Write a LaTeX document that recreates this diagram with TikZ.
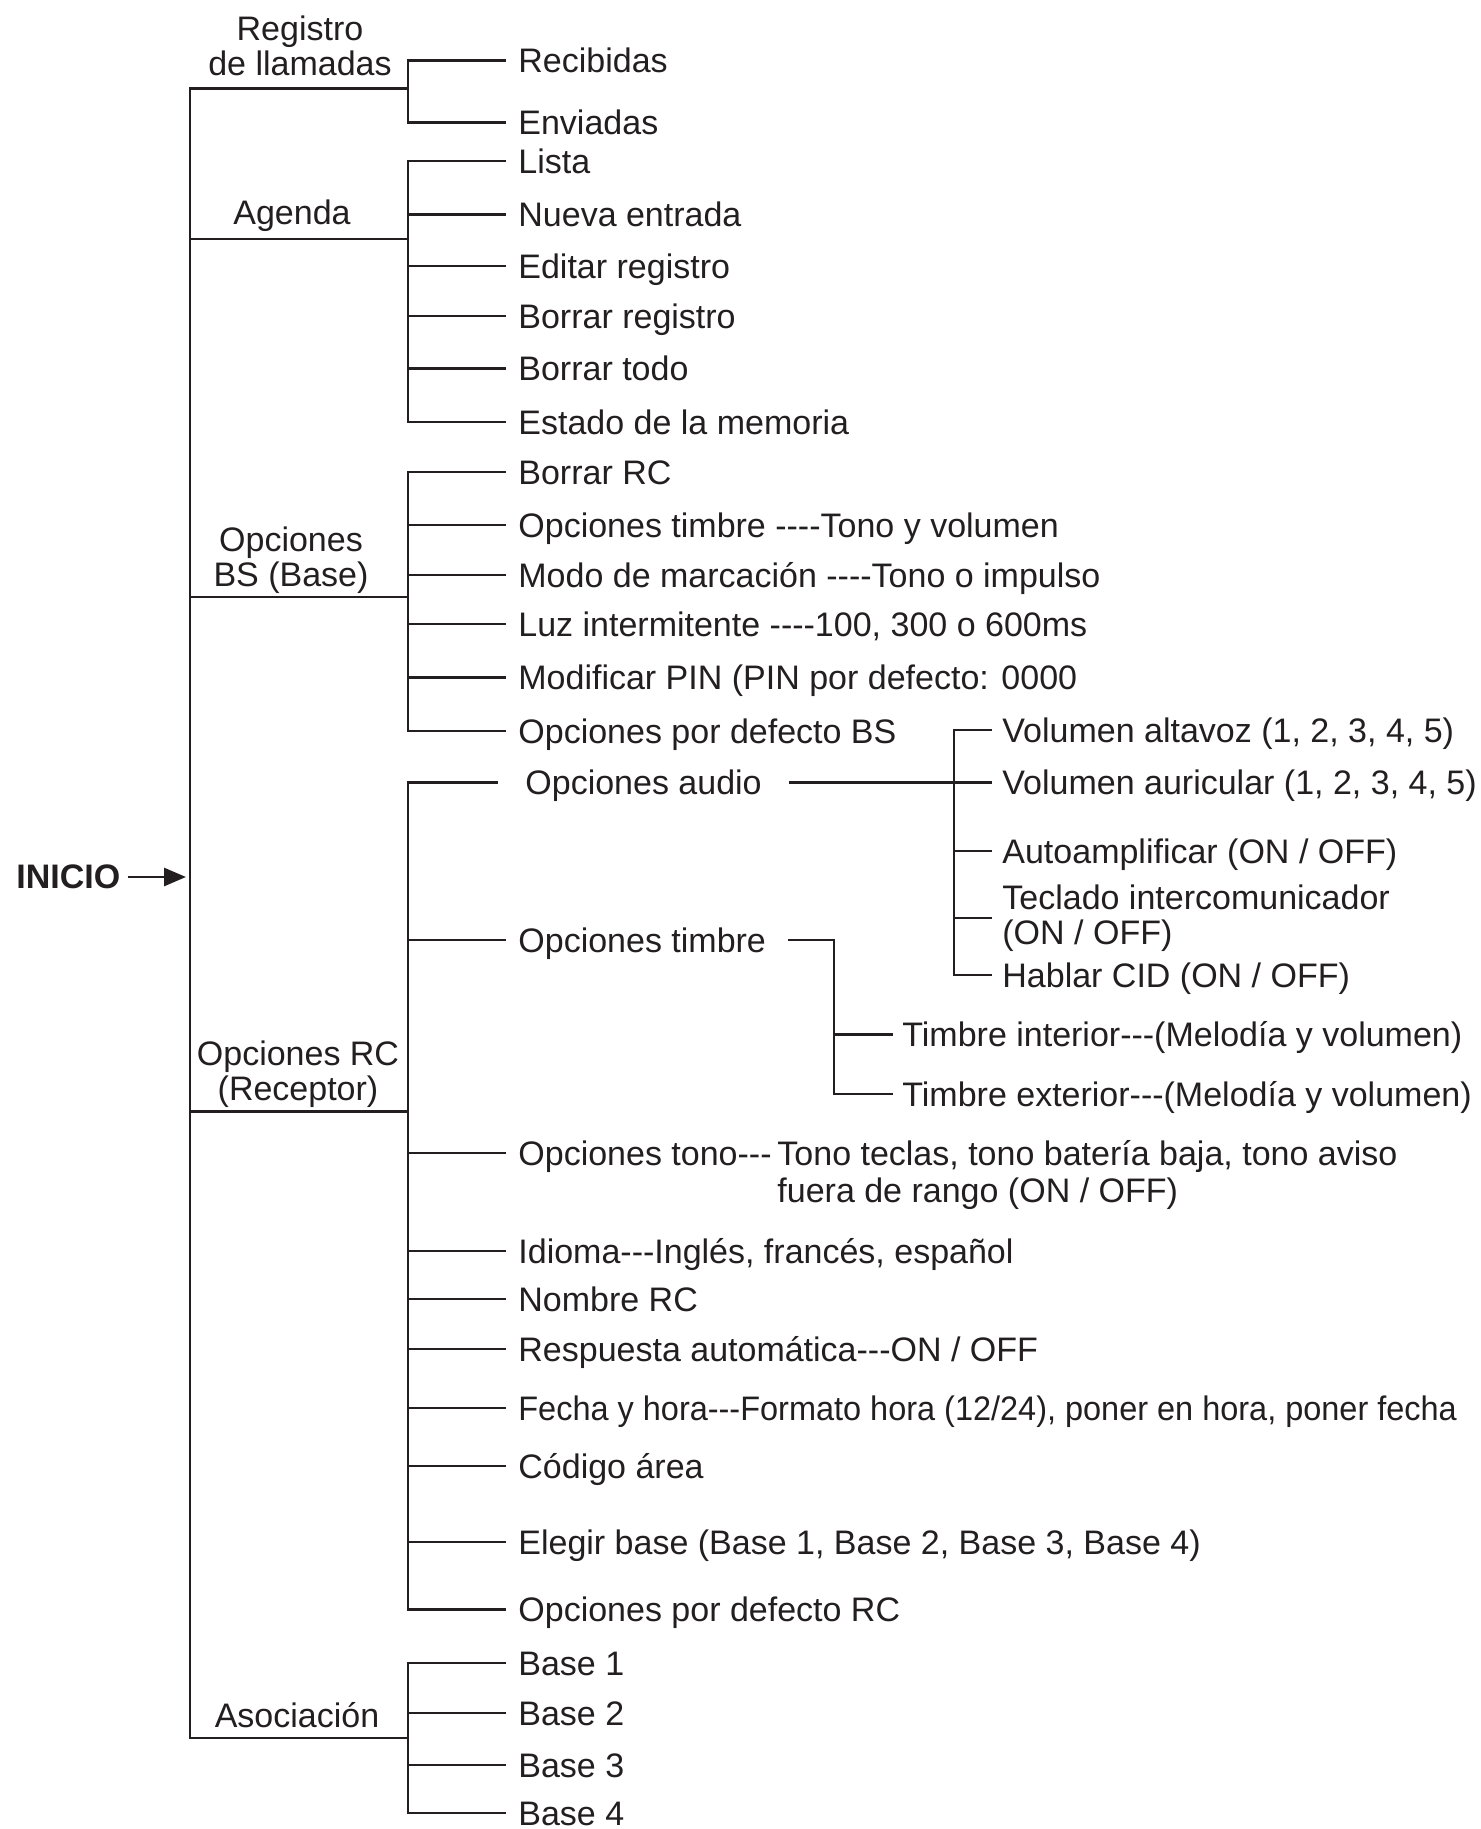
\documentclass[tikz,border=0pt]{standalone}
\usepackage{fontspec}
\setmainfont{Liberation Sans}
\usetikzlibrary{arrows.meta}
\definecolor{ink}{RGB}{35,31,32}
\newcommand\lf{\fontsize{17pt}{17.5pt}\selectfont}
\newcommand\hy{\mbox{-}}
\begin{document}
\begin{tikzpicture}[x=0.5pt, y=-0.5pt, line width=1.4pt, line cap=rect, ink,
  every node/.style={font=\lf, text=ink},
  itm/.style={anchor=west, inner xsep=6pt, inner ysep=0pt, text height=15.4pt, text depth=3.2pt},
  hd/.style={align=center, inner sep=0pt},
  hdone/.style={inner sep=0pt, text height=15.4pt, text depth=3.2pt}]
\fill[white] (0,0) rectangle (1480,1829);
\useasboundingbox (0,0) rectangle (1480,1829);

\coordinate (sp) at (190,0);
\coordinate (bx) at (408,0);
\coordinate (ax) at (954,0);
\coordinate (tx) at (834,0);

% level 1
\coordinate (jReg) at (408,88.6);
\coordinate (jAge) at (408,239);
\coordinate (jBS) at (408,597);
\coordinate (jRC) at (408,1111.5);
\coordinate (jAso) at (408,1738);
\draw (sp |- jReg) -- (sp |- jAso);
\foreach \j in {jReg,jAge,jBS,jRC,jAso} \draw (sp |- \j) -- (\j);

\node[hd] (hReg) at (300,45.5) {Registro\\de llamadas};
\node[hdone] (hAge) at (292,212) {Agenda};
\node[hd] (hBS) at (291,560) {Opciones\\BS (Base)};
\node[hd] (hRC) at (298,1074) {Opciones RC\\(Receptor)};
\node[hdone] (hAso) at (297,1715) {Asociación};

% INICIO
\node[inner sep=0pt, anchor=west, font=\lf\bfseries] (ini) at (15,877) {INICIO};
\draw[-{Triangle[length=11pt,width=9pt]}, line cap=butt] ([xshift=3pt]ini.east) -- ([xshift=-2pt]sp |- ini.east);

% Registro de llamadas
\node[itm] (rec) at (505,60.6) {Recibidas};
\node[itm] (env) at (505,122.5) {Enviadas};
\draw (bx |- rec.west) -- (bx |- env.west);
\foreach \n in {rec,env} \draw (bx |- \n.west) -- (\n.west);

% Agenda
\node[itm] (lis) at (505,161) {Lista};
\node[itm] (nue) at (505,214.6) {Nueva entrada};
\node[itm] (edi) at (505,266) {Editar registro};
\node[itm] (bre) at (505,316) {Borrar registro};
\node[itm] (bto) at (505,368.5) {Borrar todo};
\node[itm] (est) at (505,422) {Estado de la memoria};
\draw (bx |- lis.west) -- (bx |- est.west);
\foreach \n in {lis,nue,edi,bre,bto,est} \draw (bx |- \n.west) -- (\n.west);

% Opciones BS
\node[itm] (brc) at (505,472) {Borrar RC};
\node[itm] (otb) at (505,525) {Opciones timbre \hy\hy\hy\hy Tono y volumen};
\node[itm] (mod) at (505,575) {Modo de marcación \hy\hy\hy\hy Tono o impulso};
\node[itm] (luz) at (505,624) {Luz intermitente \hy\hy\hy\hy 100, 300 o 600ms};
\node[itm] (pin) at (505,677.6) {Modificar PIN (PIN por defecto: 0000};
\node[itm] (pdbs) at (505,731) {Opciones por defecto BS};
\draw (bx |- brc.west) -- (bx |- pdbs.west);
\foreach \n in {brc,otb,mod,luz,pin,pdbs} \draw (bx |- \n.west) -- (\n.west);

% Opciones RC
\node[itm, inner xsep=13.5pt] (aud) at (497,782.6) {Opciones audio};
\node[itm, inner xsep=5pt] (valt) at (991,730) {Volumen altavoz (1, 2, 3, 4, 5)};
\node[itm, inner xsep=5pt] (vaur) at (991,782.6) {Volumen auricular (1, 2, 3, 4, 5)};
\node[itm, inner xsep=5pt] (auto) at (991,851) {Autoamplificar (ON / OFF)};
\node[anchor=west, inner xsep=5pt, inner ysep=0pt, align=left] (tecl) at (991,918) {Teclado intercomunicador\\(ON / OFF)};
\node[itm, inner xsep=5pt] (habl) at (991,975) {Hablar CID (ON / OFF)};
\draw (ax |- valt.west) -- (ax |- habl.west);
\draw (aud.east) -- (vaur.west);
\foreach \n in {valt,auto,tecl,habl} \draw (ax |- \n.west) -- (\n.west);

\node[itm] (trc) at (505,940) {Opciones timbre};
\node[itm, inner xsep=4.5pt] (tin) at (892,1034.5) {Timbre interior\hy\hy\hy(Melodía y volumen)};
\node[itm, inner xsep=4.5pt] (tex) at (892,1094) {Timbre exterior\hy\hy\hy(Melodía y volumen)};
\draw ([xshift=5pt]trc.east) -- (tx |- trc.east) -- (tx |- tex.west) -- (tex.west);
\draw (tx |- tin.west) -- (tin.west);

\node[itm] (tonoA) at (505,1153) {Opciones tono\hy\hy\hy};
\node[anchor=base west, inner sep=0pt] (tonoB) at ([xshift=-4.5pt]tonoA.base east) {Tono teclas, tono batería baja, tono aviso};
\node[anchor=base west, inner sep=0pt] (tonoC) at ([yshift=-18.5pt]tonoB.base west) {fuera de rango (ON / OFF)};

\node[itm] (idi) at (505,1251) {Idioma\hy\hy\hy Inglés, francés, español};
\node[itm] (nom) at (505,1299) {Nombre RC};
\node[itm] (res) at (505,1349) {Respuesta automática\hy\hy\hy ON / OFF};
\node[itm] (fec) at (505,1408) {\scalebox{0.955}[1]{Fecha y hora\hy\hy\hy Formato hora (12/24), poner en hora, poner fecha}};
\node[itm] (cod) at (505,1466) {Código área};
\node[itm] (ele) at (505,1542) {Elegir base (Base 1, Base 2, Base 3, Base 4)};
\node[itm] (pdrc) at (505,1609.5) {Opciones por defecto RC};
\draw (bx |- aud.west) -- (bx |- pdrc.west);
\foreach \n in {aud,trc,tonoA,idi,nom,res,fec,cod,ele,pdrc} \draw (bx |- \n.west) -- (\n.west);

% Asociacion
\node[itm] (ba1) at (505,1663) {Base 1};
\node[itm] (ba2) at (505,1713) {Base 2};
\node[itm] (ba3) at (505,1765) {Base 3};
\node[itm] (ba4) at (505,1813) {Base 4};
\draw (bx |- ba1.west) -- (bx |- ba4.west);
\foreach \n in {ba1,ba2,ba3,ba4} \draw (bx |- \n.west) -- (\n.west);
\end{tikzpicture}
\end{document}
